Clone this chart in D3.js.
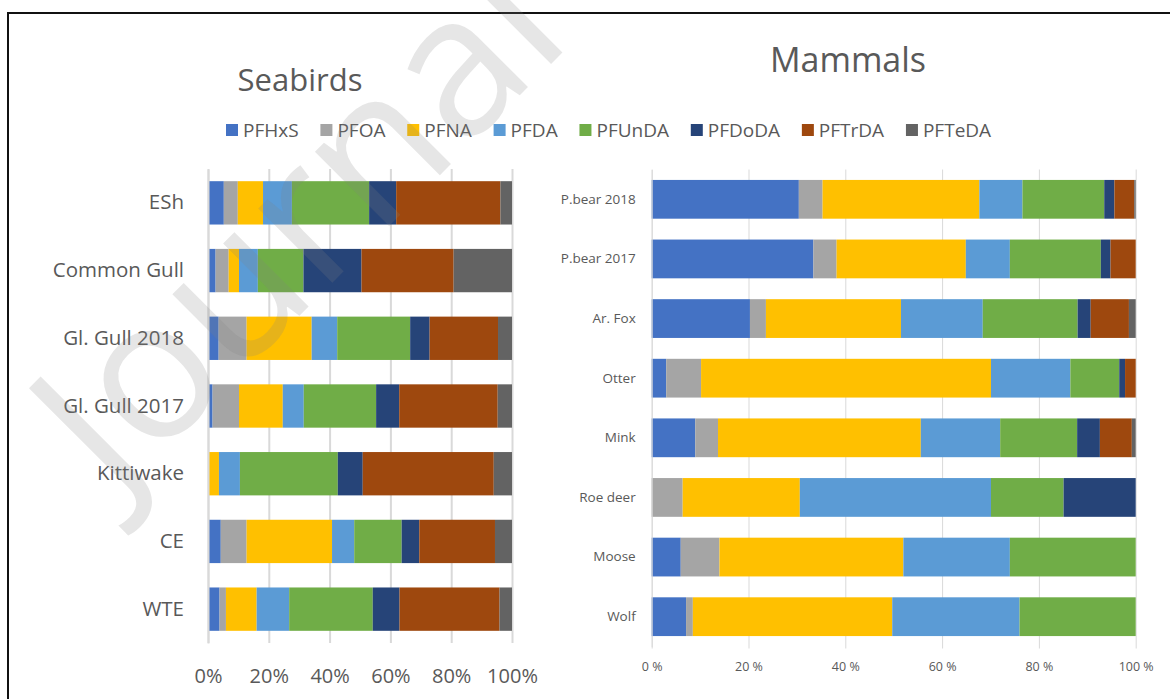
<!DOCTYPE html>
<html>
<head>
<meta charset="utf-8">
<script src="https://cdn.jsdelivr.net/npm/d3@7"></script>
<style>
  body { margin: 0; background: #fff; }
  svg text { font-family: "Open Sans", "Noto Sans", sans-serif; fill: #595959; }
</style>
</head>
<body>
<svg id="chart" width="1170" height="699"></svg>
<script>
// compounds (legend order = stack order)
const compounds = ["PFHxS", "PFOA", "PFNA", "PFDA", "PFUnDA", "PFDoDA", "PFTrDA", "PFTeDA"];
const colors = ["#4472C4", "#A5A5A5", "#FFC000", "#5B9BD5", "#70AD47", "#264478", "#9E480E", "#636363"];

// seabirds, % of each compound (order as compounds)
const seabirdCats = ["ESh", "Common Gull", "Gl. Gull 2018", "Gl. Gull 2017", "Kittiwake", "CE", "WTE"];
const seabirdValues = [
  [5.2, 4.6, 8.3, 9.5, 25.4, 8.9, 34.3, 3.8],
  [2.5, 4.3, 3.4, 6.2, 15.0, 19.1, 30.3, 19.2],
  [3.5, 9.2, 21.4, 8.4, 24.0, 6.4, 22.5, 4.6],
  [1.5, 8.7, 14.4, 6.9, 23.8, 7.6, 32.4, 4.7],
  [0, 0, 3.6, 6.9, 32.2, 8.2, 43.1, 6.0],
  [4.2, 8.5, 28.1, 7.3, 15.6, 5.8, 24.9, 5.6],
  [3.8, 2.1, 10.1, 10.7, 27.5, 8.8, 32.9, 4.1]
];
const seabirdTicks = [0, 20, 40, 60, 80, 100];

// mammals
const mammalCats = ["P.bear 2018", "P.bear 2017", "Ar. Fox", "Otter", "Mink", "Roe deer", "Moose", "Wolf"];
const mammalValues = [
  [30.4, 4.9, 32.4, 8.9, 16.9, 2.1, 4.1, 0.3],
  [33.4, 4.8, 26.7, 9.1, 18.8, 2.0, 5.2, 0],
  [20.3, 3.3, 27.9, 16.9, 19.6, 2.7, 7.9, 1.4],
  [3.0, 7.2, 59.9, 16.4, 10.1, 1.2, 2.2, 0],
  [9.0, 4.7, 41.9, 16.4, 15.9, 4.7, 6.6, 0.8],
  [0, 6.4, 24.2, 39.5, 15.0, 14.9, 0, 0],
  [6.0, 8.0, 38.0, 22.0, 26.0, 0, 0, 0],
  [7.1, 1.4, 41.2, 26.3, 24.0, 0, 0, 0]
];
const mammalTicks = [0, 20, 40, 60, 80, 100];

const svg = d3.select("#chart");

// frame round the whole figure
svg.append("rect")
  .attr("x", 8).attr("y", 13)
  .attr("width", 1200).attr("height", 800)
  .attr("fill", "none").attr("stroke", "#111").attr("stroke-width", 2);

function toRows(cats, values) {
  return cats.map((c, i) => {
    const row = { cat: c };
    compounds.forEach((k, j) => row[k] = values[i][j]);
    return row;
  });
}

function drawPanel(opt) {
  const g = svg.append("g");
  const x = d3.scaleLinear().domain([0, 100]).range(opt.xRange);
  const y = d3.scaleBand().domain(opt.cats).range(opt.yRange)
    .paddingInner(opt.padInner).paddingOuter(opt.padInner / 2);

  // gridlines + tick labels
  const xAxis = d3.axisBottom(x).tickValues(opt.ticks)
    .tickSize(opt.yRange[1] - opt.yRange[0] + opt.tickExtra)
    .tickFormat(opt.fmt);
  const ax = g.append("g")
    .attr("transform", `translate(0,${opt.yRange[0]})`)
    .call(xAxis);
  ax.select(".domain").remove();
  ax.selectAll(".tick line").attr("stroke", "#d9d9d9").attr("stroke-width", opt.gridW);
  ax.selectAll(".tick text")
    .attr("y", opt.yRange[1] - opt.yRange[0] + opt.labelDy)
    .style("font-size", opt.tickFont + "px");

  // stacked bars
  const stack = d3.stack().keys(compounds)(toRows(opt.cats, opt.values));
  g.selectAll("g.series").data(stack).join("g")
    .attr("class", "series")
    .attr("fill", (d, i) => colors[i])
    .selectAll("rect").data(d => d).join("rect")
    .attr("x", d => x(d[0]))
    .attr("y", d => y(d.data.cat))
    .attr("width", d => Math.max(0, x(d[1]) - x(d[0])))
    .attr("height", y.bandwidth());

  // category labels
  const yAxis = d3.axisLeft(y).tickSize(0).tickPadding(opt.catPad);
  const ay = g.append("g").attr("transform", `translate(${opt.xRange[0]},0)`).call(yAxis);
  ay.select(".domain").attr("stroke", "#d9d9d9").attr("stroke-width", opt.gridW);
  ay.selectAll(".tick text").style("font-size", opt.catFont + "px");

  svg.append("text")
    .attr("x", opt.titleX).attr("y", opt.titleY)
    .attr("text-anchor", "middle")
    .style("font-size", opt.titleFont + "px")
    .text(opt.title);
}

drawPanel({
  title: "Seabirds", titleX: 300, titleY: 91, titleFont: 31,
  cats: seabirdCats, values: seabirdValues, ticks: seabirdTicks,
  xRange: [208, 512], yRange: [169, 643], padInner: 0.36,
  fmt: d => d + "%", tickFont: 20, labelDy: 26, tickExtra: 0, gridW: 2,
  catFont: 20.5, catPad: 24
});

drawPanel({
  title: "Mammals", titleX: 848, titleY: 72, titleFont: 34,
  cats: mammalCats, values: mammalValues, ticks: mammalTicks,
  xRange: [651.7, 1135.7], yRange: [169.5, 646.5], padInner: 0.35,
  fmt: d => d + " %", tickFont: 12.5, labelDy: 16, tickExtra: 2, gridW: 1,
  catFont: 13.5, catPad: 16
});

// legend
const legend = svg.append("g").attr("transform", "translate(226,130)");
let lx = 0;
compounds.forEach((k, i) => {
  const it = legend.append("g").attr("transform", `translate(${lx},0)`);
  it.append("rect").attr("x", 0).attr("y", -6).attr("width", 12).attr("height", 12).attr("fill", colors[i]);
  const t = it.append("text").attr("x", 17).attr("y", 7).style("font-size", "19px").text(k);
  lx += 17 + t.node().getComputedTextLength() + 21.8;
});

// watermark
svg.append("text")
  .attr("transform", "translate(115,500) rotate(-45)")
  .style("font-size", "196px")
  .style("fill", "#808080")
  .style("fill-opacity", 0.2)
  .text("Journal");
</script>
</body>
</html>
